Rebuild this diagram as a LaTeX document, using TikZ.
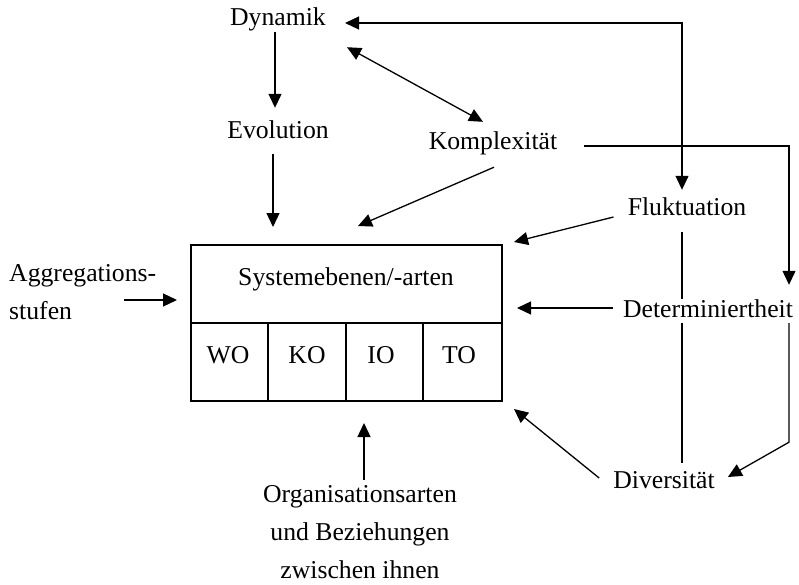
\documentclass[tikz,border=0pt]{standalone}
\usepackage{fontspec}
\setmainfont{Liberation Serif}
\usetikzlibrary{arrows.meta,calc}
\begin{document}
\begin{tikzpicture}[x=1pt,y=-1pt,
  every node/.style={font=\fontsize{25.7}{38}\selectfont, inner sep=0pt},
  lbl/.style={anchor=base, text height=18pt, text depth=6pt},
  con/.style={line width=1.3pt},
  arr/.style={con, -{Triangle[length=14pt,width=13pt]}},
  darr/.style={con, {Triangle[length=14pt,width=13pt]}-{Triangle[length=14pt,width=13pt]}},
  frame/.style={line width=2pt},
]
\useasboundingbox (0,0) rectangle (799,585);

% labels
\node[lbl] (Dynamik) at (278,26) {Dynamik};
\node[lbl] (Evolution) at (278,139) {Evolution};
\node[lbl] (Komplexitaet) at (493,150) {Komplexität};
\node[lbl] (Fluktuation) at (687,215) {Fluktuation};
\node[lbl] (Determiniertheit) at (708,317) {Determiniertheit};
\node[lbl] (Diversitaet) at (664,488) {Diversität};
\node[anchor=north west, align=left] (Aggr) at (9,264) {Aggregations-\\stufen};
\node[anchor=north, align=center] (Org) at (360,485) {Organisationsarten\\und Beziehungen\\zwischen ihnen};

% central table
\node[draw, frame, minimum width=311pt, minimum height=156pt] (box) at (346.5,323) {};
\draw[frame] (box.west) -- (box.east);
\foreach \dx in {78,156,233}
  \draw[frame] ($(box.north west)+(\dx,78)$) -- ($(box.south west)+(\dx,0)$);
\node[lbl] (sysl) at (346,285) {Systemebenen/-arten};
\node[lbl] (cwo) at (228,363) {WO};
\node[lbl] (cko) at (307,363) {KO};
\node[lbl] (cio) at (381,363) {IO};
\node[lbl] (cto) at (459,363) {TO};

% connectors
\draw[arr] ($(Dynamik.south)+(-3,0)$) -- ($(Evolution.north)+(-3,-13)$);
\draw[arr] ($(Evolution.south)+(-5,9)$) -- ($(Evolution.south |- box.north)+(-5,-17)$);
\draw[darr] ($(Dynamik.south east)+(21,15)$) -- ($(Komplexitaet.north)+(-10,-10)$);
\draw[darr] ($(Dynamik.east)+(19,3)$) -| ($(Fluktuation.north)+(-5,-7)$);
\draw[arr] ($(Komplexitaet.south)+(1,11)$) -- ($(box.north)+(11.5,-18)$);
\draw[arr] ($(Komplexitaet.east)+(27,2)$) -| ($(Determiniertheit.north)+(81,-14)$);
\draw[arr] ($(Fluktuation.west)+(-14,8)$) -- ($(box.north east)+(11,-2)$);
\draw[arr] ($(Determiniertheit.west)+(-10,-3)$) -- ($(box.east)+(14,-15)$);
\draw[arr] ($(Diversitaet.west)+(-14,-4)$) -- ($(box.south east)+(11,7)$);
\coordinate (vx) at ($(Fluktuation.south)+(-5,0)$);
\draw[con] ($(vx)+(0,11)$) -- (vx |- Determiniertheit.north);
\draw[con] (vx |- Determiniertheit.south) -- ($(vx |- Diversitaet.north)+(0,-7)$);
\draw[arr] ($(Determiniertheit.south)+(81,0)$) -- ($(Determiniertheit.south)+(81,119)$) -- ($(Diversitaet.east)+(13,-5)$);
\draw[arr] ($(Aggr.north east)+(-32,36)$) -- ($(box.west)+(-13,-23)$);
\draw[arr] ($(Org.north)+(4,-5)$) -- ($(Org.north |- box.south)+(4,21)$);
\end{tikzpicture}
\end{document}
